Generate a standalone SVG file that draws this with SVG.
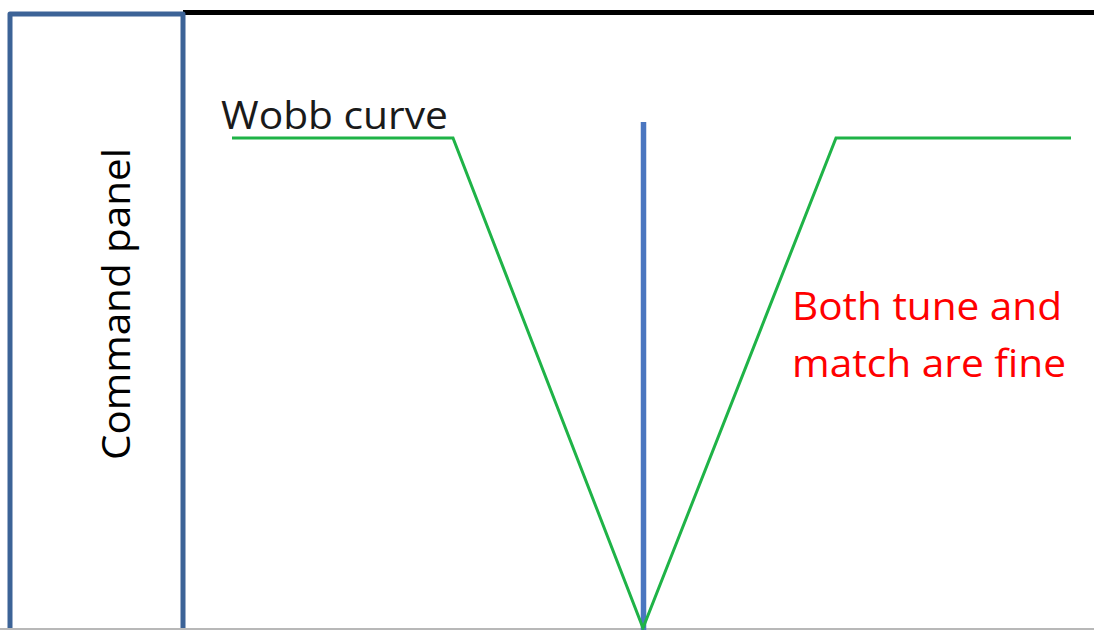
<svg xmlns="http://www.w3.org/2000/svg" width="1094" height="630" viewBox="0 0 1094 630">
<style>
.t{font-family:"Open Sans","Liberation Sans",sans-serif;font-size:38px}
</style>
<rect width="1094" height="630" fill="#ffffff"/>
<g id="frame">
<line x1="183" y1="12.5" x2="1094" y2="12.5" stroke="#000000" stroke-width="5"/>
<path d="M10,630 V14 H183 V630" fill="none" stroke="#3c6397" stroke-width="5" stroke-linejoin="round"/>
<line x1="0" y1="629" x2="1094" y2="629" stroke="#b8b8b8" stroke-width="2"/>
</g>
<g id="command-panel">
<text class="t" transform="translate(130,304) rotate(-90)" text-anchor="middle" fill="#000000" textLength="312" lengthAdjust="spacingAndGlyphs">Command panel</text>
</g>
<g id="connectors">
<line x1="643.5" y1="122" x2="643.5" y2="630" stroke="#4a76c0" stroke-width="5.5"/>
<polyline points="232,138 453,138 643,628 836,138 1071,138" fill="none" stroke="#1fb347" stroke-width="3"/>
</g>
<g id="wobb-label">
<text class="t" x="221" y="129" fill="#1a1a1a" textLength="227" lengthAdjust="spacingAndGlyphs">Wobb curve</text>
</g>
<g id="status-label">
<text class="t" x="792" y="320" fill="#ff0000" textLength="270" lengthAdjust="spacingAndGlyphs">Both tune and</text>
<text class="t" x="792" y="377" fill="#ff0000" textLength="274" lengthAdjust="spacingAndGlyphs">match are fine</text>
</g>
</svg>
